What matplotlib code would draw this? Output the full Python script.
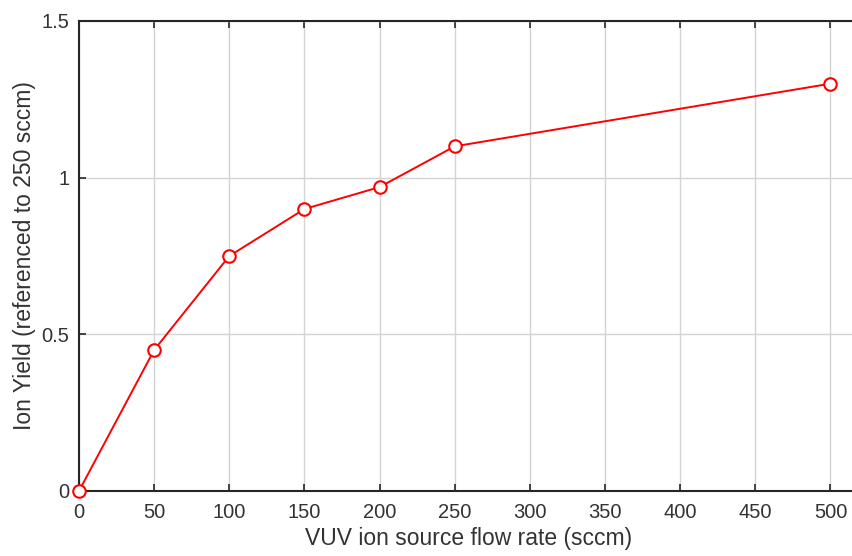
import numpy as np
import matplotlib
matplotlib.use("Agg")
import matplotlib.pyplot as plt

flow_sccm = [0, 50, 100, 150, 200, 250, 500]
ion_yield = [0.0, 0.45, 0.75, 0.90, 0.97, 1.10, 1.30]
x_ticks = [0, 50, 100, 150, 200, 250, 300, 350, 400, 450, 500]
y_ticks = [0, 0.5, 1, 1.5]
y_ticklabels = ['0', '0.5', '1', '1.5']

plt.rcParams['font.family'] = ['Liberation Sans', 'DejaVu Sans']
txt_col = '#333333'

W, H = 853, 556
fig = plt.figure(figsize=(W / 100, H / 100), dpi=100)

# axes run just past the right edge of the picture, like the cropped original
x0, x1 = 79, 830.5
y0, y1 = 491, 21
px_per_unit = (x1 - x0) / 500.0
xmax = 519
ax = fig.add_axes([x0 / W, (H - y0) / H, xmax * px_per_unit / W, (y0 - y1) / H])

ax.plot(flow_sccm, ion_yield, color='#ff0000', linewidth=1.4, marker='o',
        markersize=9, markerfacecolor='white', markeredgecolor='#ff0000',
        markeredgewidth=1.5, clip_on=False, zorder=5)

ax.set_xlim(0, xmax)
ax.set_ylim(0, 1.5)
ax.set_xticks(x_ticks)
ax.set_yticks(y_ticks)
ax.set_yticklabels(y_ticklabels)
ax.grid(True, color='#d4d4d4', linewidth=1.0)
ax.set_axisbelow(True)

for s in ax.spines.values():
    s.set_color('#262626')
    s.set_linewidth(1.5)
ax.tick_params(direction='in', length=5, width=1.2, colors='#262626',
               labelsize=14.5, labelcolor=txt_col, top=True)
ax.tick_params(axis='x', pad=9)
ax.tick_params(axis='y', pad=7)

ax.set_xlabel('VUV ion source flow rate (sccm)', fontsize=16.5, color=txt_col, labelpad=3)
ax.set_ylabel('Ion Yield (referenced to 250 sccm)', fontsize=16.5, color=txt_col, labelpad=4)

fig.savefig('out.png', dpi=100)
